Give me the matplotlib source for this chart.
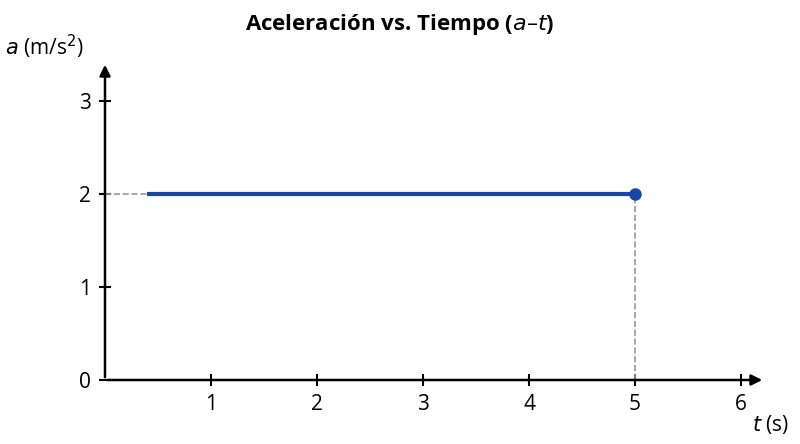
import matplotlib.pyplot as plt

plt.rcParams['font.family'] = ['Open Sans', 'DejaVu Sans']

# data
t_start, t_end = 0.4, 5.0
accel = 2.0
x_ticks = [1, 2, 3, 4, 5, 6]
y_ticks = [0, 1, 2, 3]

fig = plt.figure(figsize=(8, 4.44), dpi=100)
ax = fig.add_axes([105 / 800, 64 / 444, 660 / 800, 318 / 444])
ax.set_xlim(0, 660 / 106)
ax.set_ylim(0, 318 / 93)
for s in ax.spines.values():
    s.set_visible(False)

# axes with arrows
ax.annotate('', xy=(1, 0), xytext=(0, 0), xycoords='axes fraction',
            arrowprops=dict(arrowstyle='-|>', color='black', lw=1.8, mutation_scale=16))
ax.annotate('', xy=(0, 1), xytext=(0, 0), xycoords='axes fraction',
            arrowprops=dict(arrowstyle='-|>', color='black', lw=1.8, mutation_scale=16))

ax.set_xticks(x_ticks)
ax.set_yticks(y_ticks)
ax.tick_params(direction='inout', length=8, width=1.5, labelsize=15, pad=6)

# guide lines
ax.plot([0, t_start], [accel, accel], ls='--', color='#999999', lw=1.2)
ax.plot([t_end, t_end], [0, accel], ls='--', color='#999999', lw=1.2)

ax.plot([t_start, t_end], [accel, accel], color='#1846a6', lw=3, solid_capstyle='butt')
ax.plot([t_end], [accel], 'o', color='#1846a6', ms=8)

fig.text(0.5, 0.945, 'Aceleración vs. Tiempo ($a$–$t$)', ha='center', va='center',
         fontsize=16, fontweight='bold')
fig.text(5 / 800, 0.895, '$a$ (m/s$^2$)', ha='left', va='center', fontsize=15)
fig.text(752 / 800, 0.045, '$t$ (s)', ha='left', va='center', fontsize=15)

fig.savefig('out.png', dpi=100)
